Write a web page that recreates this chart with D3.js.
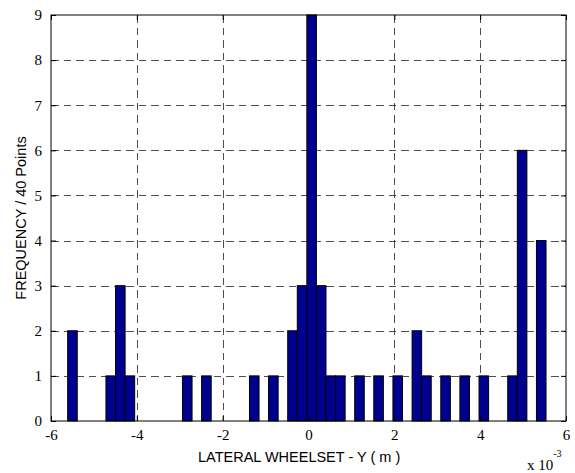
<!DOCTYPE html>
<html>
<head>
<meta charset="utf-8">
<script src="https://cdn.jsdelivr.net/npm/d3@7/dist/d3.min.js"></script>
<style>
  html, body { margin: 0; padding: 0; background: #fff; }
  svg { display: block; }
  .serif { font-family: "Liberation Serif", "Times New Roman", serif; }
  .sans { font-family: "Liberation Sans", Arial, sans-serif; }
</style>
</head>
<body>
<svg id="chart" width="575" height="473"></svg>
<script>
// Histogram of lateral wheelset displacement (units of 1e-3 m), 50 bins
const binCenters = [-5.500, -4.608, -4.385, -4.162, -2.825, -2.379, -1.264, -0.819,
                    -0.373, -0.150, 0.073, 0.296, 0.519, 0.742, 1.188, 1.633,
                    2.079, 2.525, 2.748, 3.194, 3.639, 4.085, 4.754, 4.977, 5.423];
const binCounts  = [2, 1, 3, 1, 1, 1, 1, 1,
                    2, 3, 9, 3, 1, 1, 1, 1,
                    1, 2, 1, 1, 1, 1, 1, 6, 4];
const binWidth = 0.2229;
const xTicks = [-6, -4, -2, 0, 2, 4, 6];
const yTicks = [0, 1, 2, 3, 4, 5, 6, 7, 8, 9];

const margin = { left: 51, right: 9, top: 15, bottom: 52 };
const W = 575, H = 473;
const svg = d3.select("#chart");

const x = d3.scaleLinear().domain([-6, 6]).range([margin.left, W - margin.right]);
const y = d3.scaleLinear().domain([0, 9]).range([H - margin.bottom, margin.top]);

// dashed grid
const grid = svg.append("g").attr("stroke", "#222").attr("stroke-width", 0.8)
  .attr("stroke-dasharray", "7.5,5").attr("shape-rendering", "crispEdges");
grid.selectAll(".gx").data(xTicks.slice(1, -1)).join("line")
  .attr("x1", d => Math.round(x(d)) + 0.5).attr("x2", d => Math.round(x(d)) + 0.5)
  .attr("y1", y(9)).attr("y2", y(0));
grid.selectAll(".gy").data(yTicks.slice(1, -1)).join("line")
  .attr("y1", d => Math.round(y(d)) + 0.5).attr("y2", d => Math.round(y(d)) + 0.5)
  .attr("x1", x(-6)).attr("x2", x(6));

// bars
svg.append("g").selectAll("rect").data(binCenters.map((c, i) => ({ c, n: binCounts[i] })))
  .join("rect")
  .attr("x", d => x(d.c - binWidth / 2))
  .attr("width", d => x(d.c + binWidth / 2) - x(d.c - binWidth / 2))
  .attr("y", d => y(d.n))
  .attr("height", d => y(0) - y(d.n))
  .attr("fill", "#00008f")
  .attr("stroke", "#000")
  .attr("stroke-width", 1);

// axes with inward ticks on all four sides
const tickLen = 5;
const fmt = d => String(d); // plain hyphen-minus
const xb = d3.axisBottom(x).tickValues(xTicks).tickSizeInner(-tickLen).tickSizeOuter(0).tickPadding(8).tickFormat(fmt);
const xt = d3.axisTop(x).tickValues(xTicks).tickSizeInner(-tickLen).tickSizeOuter(0).tickFormat("");
const yl = d3.axisLeft(y).tickValues(yTicks).tickSizeInner(-tickLen).tickSizeOuter(0).tickPadding(9).tickFormat(fmt);
const yr = d3.axisRight(y).tickValues(yTicks).tickSizeInner(-tickLen).tickSizeOuter(0).tickFormat("");

function style(g) {
  g.attr("font-family", null).attr("font-size", null);
  g.select(".domain").remove();
  g.selectAll("line").attr("stroke", "#000");
  g.selectAll("text").attr("fill", "#000").attr("class", "serif").style("font-size", "15px");
}
svg.append("g").attr("transform", `translate(0,${y(0)})`).call(xb).call(style);
svg.append("g").attr("transform", `translate(0,${y(9)})`).call(xt).call(style);
svg.append("g").attr("transform", `translate(${x(-6)},0)`).call(yl).call(style);
svg.append("g").attr("transform", `translate(${x(6)},0)`).call(yr).call(style);

// frame
svg.append("rect")
  .attr("x", x(-6)).attr("y", y(9))
  .attr("width", x(6) - x(-6)).attr("height", y(0) - y(9))
  .attr("fill", "none").attr("stroke", "#000").attr("stroke-width", 1);

// labels
svg.append("text")
  .attr("class", "sans")
  .attr("x", 198).attr("y", 461.5)
  .style("font-size", "14.5px")
  .text("LATERAL WHEELSET - Y ( m )");

svg.append("text")
  .attr("class", "sans")
  .attr("transform", `translate(26,${(y(0) + y(9)) / 2}) rotate(-90)`)
  .attr("text-anchor", "middle")
  .style("font-size", "14.5px")
  .text("FREQUENCY / 40 Points");

const exp = svg.append("text")
  .attr("class", "serif")
  .attr("x", 527).attr("y", 470)
  .style("font-size", "15px");
exp.append("tspan").text("x 10");
exp.append("tspan").attr("dy", -13).style("font-size", "10px").text("-3");
</script>
</body>
</html>
